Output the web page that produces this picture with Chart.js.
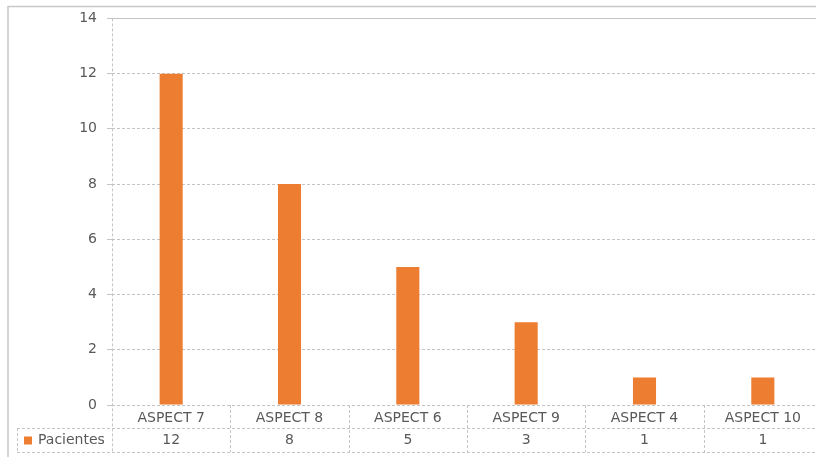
<!DOCTYPE html>
<html>
<head>
<meta charset="utf-8">
<script src="https://cdn.jsdelivr.net/npm/chart.js@4/dist/chart.umd.min.js"></script>
<style>
  html, body { margin: 0; padding: 0; background: #fff; overflow: hidden; }
  #wrap { width: 830px; height: 457px; }
</style>
</head>
<body>
<div id="wrap"><canvas id="aspectChart" width="830" height="457"></canvas></div>
<script>
const categories = ['ASPECT 7', 'ASPECT 8', 'ASPECT 6', 'ASPECT 9', 'ASPECT 4', 'ASPECT 10'];
const seriesName = 'Pacientes';
const pacientes = [12, 8, 5, 3, 1, 1];
const yTicks = [0, 2, 4, 6, 8, 10, 12, 14];

const barColor = '#ED7D31';
const textColor = '#595959';
const gridColor = '#c4c4c4';
const font = 'DejaVu Sans';

// draws the frame and the data table under the axis
const tablePlugin = {
    id: 'dataTable',
    beforeDraw(chart) {
        const ctx = chart.ctx;
        ctx.save();
        ctx.strokeStyle = '#c8c8c8';
        ctx.lineWidth = 1.5;
        ctx.strokeRect(8, 6.5, 900, 500);
        ctx.restore();
    },
    afterDraw(chart) {
        const ctx = chart.ctx;
        const x = chart.scales.x;
        const area = chart.chartArea;
        const rowTop = area.bottom;
        const rowMid = rowTop + 23;
        const rowBottom = rowTop + 47;
        const tableLeft = 17;
        const step = x.getPixelForValue(1) - x.getPixelForValue(0);

        ctx.save();
        ctx.strokeStyle = gridColor;
        ctx.lineWidth = 1;
        ctx.setLineDash([3, 2]);

        // y axis line down through the table
        ctx.beginPath();
        ctx.moveTo(area.left + 0.5, area.top);
        ctx.lineTo(area.left + 0.5, rowBottom);
        ctx.stroke();

        // column separators
        categories.forEach((c, i) => {
            const px = Math.round(x.getPixelForValue(i) + step / 2) + 0.5;
            ctx.beginPath();
            ctx.moveTo(px, rowTop);
            ctx.lineTo(px, rowBottom);
            ctx.stroke();
        });

        // row lines
        [rowMid, rowBottom].forEach(y => {
            ctx.beginPath();
            ctx.moveTo(tableLeft, y + 0.5);
            ctx.lineTo(area.right, y + 0.5);
            ctx.stroke();
        });
        ctx.beginPath();
        ctx.moveTo(tableLeft + 0.5, rowMid);
        ctx.lineTo(tableLeft + 0.5, rowBottom);
        ctx.stroke();
        ctx.setLineDash([]);

        // legend key
        const cy = (rowMid + rowBottom) / 2 + 0.5;
        ctx.fillStyle = barColor;
        ctx.fillRect(24, cy - 4, 8, 8);
        ctx.fillStyle = textColor;
        ctx.font = '14px "' + font + '"';
        ctx.textBaseline = 'middle';
        ctx.textAlign = 'left';
        ctx.fillText(seriesName, 38, cy);

        // values
        ctx.textAlign = 'center';
        pacientes.forEach((v, i) => {
            ctx.fillText(String(v), x.getPixelForValue(i), cy);
        });
        ctx.restore();
    }
};

const ctx = document.getElementById('aspectChart').getContext('2d');
const chart = new Chart(ctx, {
    type: 'bar',
    data: {
        labels: categories,
        datasets: [{
            label: seriesName,
            data: pacientes,
            backgroundColor: barColor,
            borderWidth: 0,
            barPercentage: 0.195,
            categoryPercentage: 1
        }]
    },
    options: {
        responsive: false,
        animation: false,
        devicePixelRatio: 1,
        layout: { padding: { top: 18, right: 8, left: 0, bottom: 0 } },
        plugins: {
            legend: { display: false },
            tooltip: { enabled: false }
        },
        scales: {
            x: {
                offset: true,
                grid: { display: false, drawTicks: false },
                border: { display: false },
                ticks: {
                    color: textColor,
                    font: { family: font, size: 14 },
                    padding: 5,
                    maxRotation: 0,
                    autoSkip: false
                },
                afterFit(scale) { scale.height = 52; }
            },
            y: {
                min: 0,
                max: 14,
                afterBuildTicks(scale) { scale.ticks = yTicks.map(v => ({ value: v })); },
                grid: {
                    color: gridColor,
                    tickLength: 5,
                    tickColor: gridColor
                },
                border: {
                    display: false,
                    dash: c => (c.tick && c.tick.value === 14 ? [] : [3, 2])
                },
                ticks: {
                    color: textColor,
                    font: { family: font, size: 14 },
                    padding: 10
                },
                afterFit(scale) { scale.width = 112; }
            }
        }
    },
    plugins: [tablePlugin]
});
</script>
</body>
</html>
